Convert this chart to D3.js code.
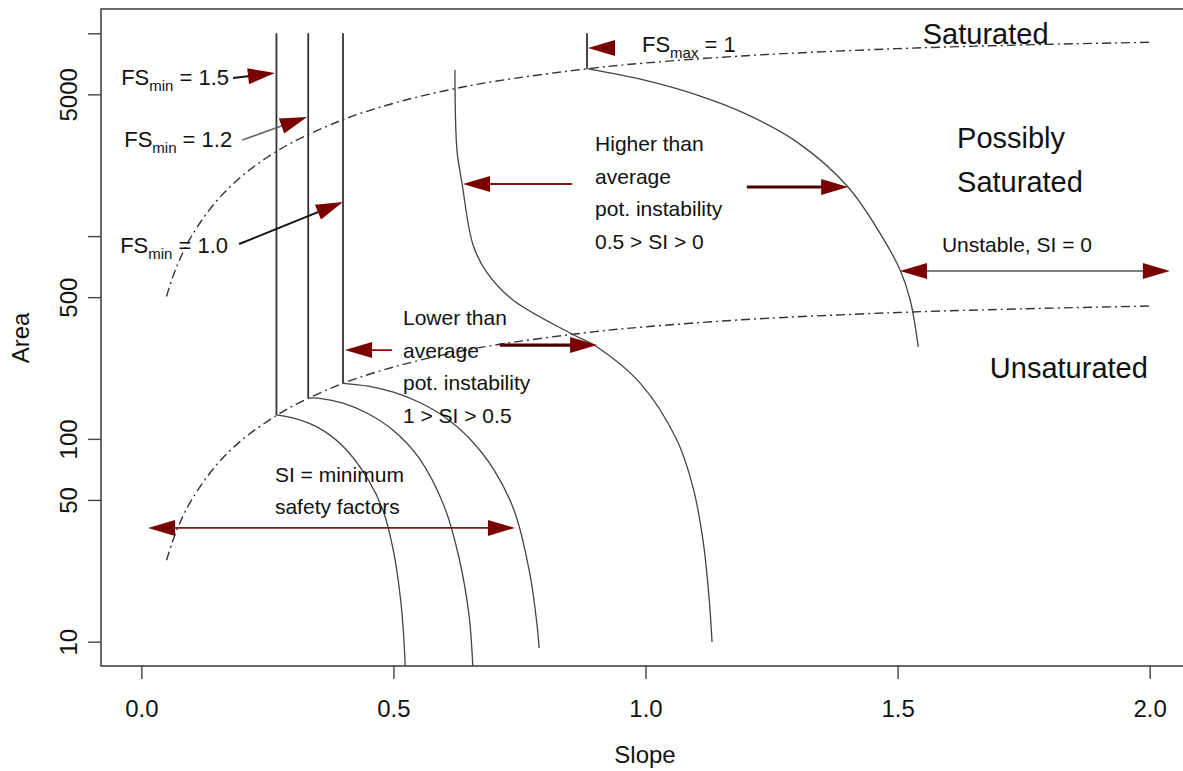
<!DOCTYPE html>
<html>
<head>
<meta charset="utf-8">
<script src="https://cdn.jsdelivr.net/npm/d3@7/dist/d3.min.js"></script>
<style>
  body { margin: 0; background: #fff; }
  svg text { font-family: "Liberation Sans", Arial, Helvetica, sans-serif; fill: #111; }
</style>
</head>
<body>
<script>
// Slope-area stability chart (SINMAP style), area on log axis
const xTicks = [0, 0.5, 1.0, 1.5, 2.0];
const yTicks = [10, 50, 100, 500, 1000, 5000, 10000];
const yLabelled = [10, 50, 100, 500, 5000];

// saturation lines [slope, area]
const satUpper = [[0.05,504],[0.06,605],[0.075,755],[0.1,1005],[0.15,1498],[0.2,1981],[0.25,2449],[0.3,2902],
  [0.4,3751],[0.5,4517],[0.6,5196],[0.7,5793],[0.9,6757],[1.0,7142],[1.2,7759],[1.5,8404],[1.75,8769],[2.0,9034]];
const satLower = [[0.05,25.2],[0.06,30.2],[0.075,37.8],[0.1,50.2],[0.15,74.9],[0.2,99],[0.25,122],[0.3,145],
  [0.4,188],[0.5,226],[0.6,260],[0.7,290],[0.9,338],[1.0,357],[1.2,388],[1.5,420],[1.75,438],[2.0,452]];

// stability lines, first two points = vertical (saturated) part
const fsMin15 = [[0.268,10000],[0.268,131],[0.30,127],[0.35,114],[0.40,92],[0.45,63],[0.48,44],[0.50,28],[0.515,15.5],[0.522,9],[0.525,5]];
const fsMin12 = [[0.331,10000],[0.331,159],[0.35,159],[0.40,150],[0.45,133],[0.50,110],[0.55,81],[0.60,47],[0.63,26],[0.65,13.5],[0.657,8],[0.66,5]];
const fsMin10 = [[0.40,10000],[0.40,188],[0.45,182],[0.50,170],[0.55,152],[0.60,129],[0.65,101],[0.70,70],[0.74,44],[0.77,22],[0.785,12],[0.789,9.3]];
const fsMax1 = [[0.884,10000],[0.884,6690],[1.0,5858],[1.1,4983],[1.2,3994],[1.3,2916],[1.4,1767],[1.465,1035],[1.505,680],[1.525,484],[1.541,284]];
const si05 = [[0.622,6592],[0.626,2663],[0.636,1829],[0.658,904],[0.686,658],[0.737,484],[0.85,333],[0.904,284],
  [0.989,189],[1.062,99],[1.094,58],[1.114,31.7],[1.126,16.6],[1.132,9.95]];

// arrows [from, tip] in [slope, area]
const blackArrows = [[[0.182,6022],[0.265,6374]], [[0.194,914],[0.400,1473]]];
const greyArrows = [[[0.200,2979],[0.3286,3869]]];
const redArrows = [[[0.854,1807],[0.638,1807]], [[0.497,274],[0.404,274]]];
const heavyArrows = [[[1.201,1747],[1.402,1747]], [[0.711,290],[0.904,290]]];
const headOnly = [[[0.9394,8466],[0.886,8466]]];
const redDouble = [[[0.0133,36.4],[0.741,36.4]]];
const greyDouble = [[[1.5047,673],[2.0401,673]]];

// labels [text, slope, area]
const bigLabels = [["Saturated",1.55,8860],["Possibly",1.618,2719],["Saturated",1.618,1650],["Unsaturated",1.683,200]];
const fsLabels = [["FS","min"," = 1.5",-0.040,5563],["FS","min"," = 1.2",-0.034,2750],["FS","min"," = 1.0",-0.042,825],["FS","max"," = 1",0.993,8091]];
const notes = [
  [["Higher than","average","pot. instability","0.5 > SI > 0"],0.900,2628],
  [["Lower than","average","pot. instability","1 > SI > 0.5"],0.519,364],
  [["SI = minimum","safety factors"],0.265,61.3],
  [["Unstable, SI = 0"],1.588,835]
];

const width = 1183, height = 771;
const svg = d3.select("body").append("svg").attr("width", width).attr("height", height);

const xPad = (2 - 0) * 0.04;
const x = d3.scaleLinear().domain([0 - xPad, 2 + xPad]).range([101, 1190]);
const lLo = 1, lHi = 4, lPad = (lHi - lLo) * 0.04;
const y = d3.scaleLog().domain([10 ** (lLo - lPad), 10 ** (lHi + lPad)]).range([666, 9]);

svg.append("clipPath").attr("id", "plotclip").append("rect")
  .attr("x", 101).attr("y", 9).attr("width", 1089).attr("height", 657);

const line = d3.line().x(d => x(d[0])).y(d => y(d[1]));
const smooth = d3.line().x(d => x(d[0])).y(d => y(d[1])).curve(d3.curveCatmullRom.alpha(0.5));

const plot = svg.append("g").attr("clip-path", "url(#plotclip)");

// dash-dot saturation lines
[satUpper, satLower].forEach(pts => {
  plot.append("path").attr("d", smooth(pts))
    .attr("fill", "none").attr("stroke", "#333").attr("stroke-width", 1.4)
    .attr("stroke-dasharray", "9,4,2,4");
});

// stability lines
[fsMin15, fsMin12, fsMin10, fsMax1].forEach(pts => {
  plot.append("path").attr("d", line(pts.slice(0, 2)))
    .attr("fill", "none").attr("stroke", "#333").attr("stroke-width", 1.8);
  plot.append("path").attr("d", smooth(pts.slice(1)))
    .attr("fill", "none").attr("stroke", "#444").attr("stroke-width", 1.3);
});
plot.append("path").attr("d", smooth(si05))
  .attr("fill", "none").attr("stroke", "#444").attr("stroke-width", 1.3);

// frame
svg.append("rect").attr("x", 101).attr("y", 9).attr("width", 1089).attr("height", 657)
  .attr("fill", "none").attr("stroke", "#444").attr("stroke-width", 1.6);

// axes
const xAxis = svg.append("g").attr("transform", "translate(0,666)")
  .call(d3.axisBottom(x).tickValues(xTicks).tickSize(13).tickPadding(21).tickFormat(d3.format(".1f")));
xAxis.select(".domain").remove();
xAxis.selectAll("line").attr("stroke", "#444").attr("stroke-width", 1.4);
xAxis.selectAll("text").attr("font-size", 24).attr("fill", "#111")
  .style("font-family", "'Liberation Sans', Arial, sans-serif");

const yAxis = svg.append("g").attr("transform", "translate(101,0)")
  .call(d3.axisLeft(y).tickValues(yTicks).tickSize(13)
    .tickFormat(d => yLabelled.includes(d) ? String(d) : ""));
yAxis.select(".domain").remove();
yAxis.selectAll("line").attr("stroke", "#444").attr("stroke-width", 1.4);
yAxis.selectAll("text")
  .attr("x", 0).attr("y", -24).attr("dy", null)
  .attr("transform", "rotate(-90)")
  .attr("text-anchor", "middle")
  .attr("font-size", 24).attr("fill", "#111")
  .style("font-family", "'Liberation Sans', Arial, sans-serif");

svg.append("text").attr("x", 645).attr("y", 763).attr("text-anchor", "middle")
  .attr("font-size", 24).text("Slope");
svg.append("text").attr("transform", "translate(29,338) rotate(-90)").attr("text-anchor", "middle")
  .attr("font-size", 24).text("Area");

// arrows
const headLen = 27, headW = 8, dark = "#7a0000";
function drawArrow(from, to, shaft, sw, heads) {
  const a = [x(from[0]), y(from[1])], b = [x(to[0]), y(to[1])];
  const len = Math.hypot(b[0] - a[0], b[1] - a[1]);
  const ux = (b[0] - a[0]) / len, uy = (b[1] - a[1]) / len;
  const s0 = heads === 2 ? headLen - 2 : 0;
  if (shaft && len > headLen) {
    svg.append("line")
      .attr("x1", a[0] + ux * s0).attr("y1", a[1] + uy * s0)
      .attr("x2", b[0] - ux * (headLen - 2)).attr("y2", b[1] - uy * (headLen - 2))
      .attr("stroke", shaft).attr("stroke-width", sw);
  }
  const head = (tip, dx, dy) => {
    const bx = tip[0] - dx * headLen, by = tip[1] - dy * headLen;
    svg.append("polygon")
      .attr("points", [[tip[0], tip[1]], [bx - dy * headW, by + dx * headW], [bx + dy * headW, by - dx * headW]].map(p => p.join(",")).join(" "))
      .attr("fill", dark);
  };
  head(b, ux, uy);
  if (heads === 2) head(a, -ux, -uy);
}
blackArrows.forEach(d => drawArrow(d[0], d[1], "#111", 2, 1));
greyArrows.forEach(d => drawArrow(d[0], d[1], "#666", 1.6, 1));
redArrows.forEach(d => drawArrow(d[0], d[1], "#8b1010", 1.8, 1));
heavyArrows.forEach(d => drawArrow(d[0], d[1], "#4a0000", 3.2, 1));
headOnly.forEach(d => drawArrow(d[0], d[1], null, 0, 1));
redDouble.forEach(d => drawArrow(d[0], d[1], "#8b1010", 1.8, 2));
greyDouble.forEach(d => drawArrow(d[0], d[1], "#555", 1.6, 2));

// labels
bigLabels.forEach(d => {
  svg.append("text").attr("x", x(d[1])).attr("y", y(d[2])).attr("font-size", 29).text(d[0]);
});
fsLabels.forEach(d => {
  const t = svg.append("text").attr("x", x(d[3])).attr("y", y(d[4])).attr("font-size", 22);
  t.append("tspan").text(d[0]);
  t.append("tspan").attr("font-size", 15).attr("dy", 6).text(d[1]);
  t.append("tspan").attr("dy", -6).text(d[2]);
});
notes.forEach(d => {
  const t = svg.append("text").attr("x", x(d[1])).attr("y", y(d[2])).attr("font-size", 21);
  d[0].forEach((s, i) => {
    t.append("tspan").attr("x", x(d[1])).attr("dy", i === 0 ? 0 : 32.5).text(s);
  });
});
</script>
</body>
</html>
